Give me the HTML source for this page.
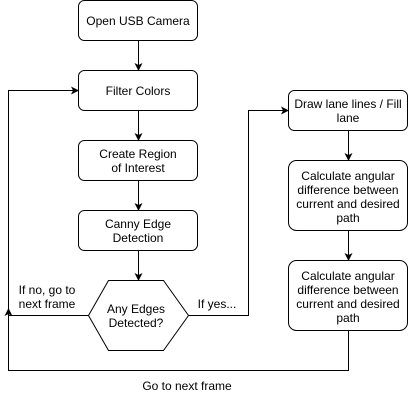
<!DOCTYPE html>
<html><head><style>body{margin:0;background:#fff}</style></head><body>
<svg width="408" height="402" xmlns="http://www.w3.org/2000/svg" font-family="Liberation Sans, sans-serif" font-size="12">
<defs><marker id="a" markerWidth="8" markerHeight="8" refX="7" refY="4" orient="auto" markerUnits="userSpaceOnUse"><path d="M0,0 L8,4 L0,8 L2,4 z" fill="#000"/></marker></defs>
<g fill="#fff" stroke="#000" stroke-width="1">
<rect x="78.5" y="0.5" width="119" height="40" rx="6"/>
<rect x="78.5" y="70.5" width="119" height="40" rx="6"/>
<rect x="78.5" y="140.5" width="119" height="40" rx="6"/>
<rect x="78.5" y="210.5" width="119" height="40" rx="6"/>
<polygon points="88.5,315.5 108.5,280.5 163.5,280.5 188.5,315.5 163.5,350.5 108.5,350.5"/>
<rect x="288.5" y="90.5" width="119" height="40" rx="6"/>
<rect x="288.5" y="160.5" width="119" height="70" rx="8"/>
<rect x="288.5" y="260.5" width="119" height="70" rx="8"/>
</g>
<g fill="none" stroke="#000" marker-end="url(#a)">
<path d="M138.5 40.5 V70"/>
<path d="M138.5 110.5 V140"/>
<path d="M138.5 180.5 V210"/>
<path d="M138.5 250.5 V280"/>
<path d="M348.5 130.5 V160"/>
<path d="M348.5 230.5 V260"/>
<path d="M188.5 315.5 H248.5 V110.5 H288"/>
<path d="M348.5 330.5 V370.5 H8.5 V90.5 H78"/>
</g>
<path d="M88.5 315.5 H8.5" fill="none" stroke="#000"/>
<path d="M8.5,308 L12.5,316 L8.5,314 L4.5,316 z" fill="#000"/>
<g text-anchor="middle" fill="#000">
<text x="138" y="25">Open USB Camera</text>
<text x="138" y="95">Filter Colors</text>
<text x="138" y="158">Create Region</text><text x="138" y="172">of Interest</text>
<text x="138" y="228">Canny Edge</text><text x="138" y="242">Detection</text>
<text x="136" y="313">Any Edges</text><text x="136" y="327">Detected?</text>
<text x="348" y="108">Draw lane lines / Fill</text><text x="348" y="122">lane</text>
<text x="348" y="180">Calculate angular</text><text x="348" y="194">difference between</text><text x="348" y="208">current and desired</text><text x="348" y="222">path</text>
<text x="348" y="280">Calculate angular</text><text x="348" y="294">difference between</text><text x="348" y="308">current and desired</text><text x="348" y="322">path</text>
<text x="47" y="294">If no, go to</text><text x="47" y="308">next frame</text>
<text x="217" y="308">If yes...</text>
<text x="187" y="390">Go to next frame</text>
</g>
</svg>
</body></html>
